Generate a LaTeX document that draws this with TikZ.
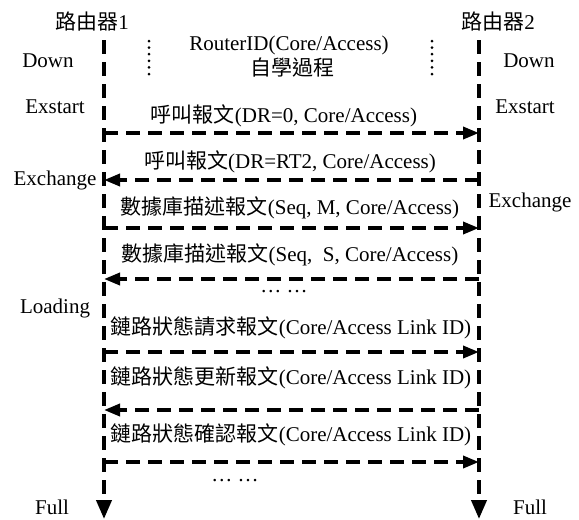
\documentclass[tikz,border=0pt]{standalone}
\usepackage{fontspec}
\setmainfont{Liberation Serif}
\newfontfamily\cjk{Noto Sans CJK TC}
\usetikzlibrary{arrows.meta}
\begin{document}
\begin{tikzpicture}[x=1pt,y=-1pt,
 lbl/.style={font=\fontsize{21}{24}\selectfont, inner sep=0pt, anchor=center},
 life/.style={line width=4pt, dash pattern=on 14pt off 8pt, -{Triangle[length=19pt,width=15pt]}},
 msg/.style={line width=3.6pt, dash pattern=on 14pt off 8pt, -{Triangle[length=16pt,width=12pt]}},
 dotline/.style={line width=3pt, line cap=round, dash pattern=on 0pt off 6.6pt}]
\useasboundingbox (0,0) rectangle (579,520);
% router labels
\node[lbl] (r1) at (92,22) {{\cjk 路由器}1};
\node[lbl] (r2) at (498,22) {{\cjk 路由器}2};
% lifelines
\coordinate (l1top) at (104,40);
\coordinate (l1bot) at (104,519);
\coordinate (l2top) at (479,40);
\coordinate (l2bot) at (479,519);
\draw[life] (l1top) -- (l1bot);
\draw[life] (l2top) -- (l2bot);
% states
\node[lbl] (sdl) at (48,61) {Down};
\node[lbl] (sdr) at (529,61) {Down};
\node[lbl] (sel) at (55,107) {Exstart};
\node[lbl] (ser) at (525,107) {Exstart};
\node[lbl] (sxl) at (55,180) {Exchange};
\node[lbl] (sxr) at (530,202) {Exchange};
\node[lbl] (sll) at (55,308) {Loading};
\node[lbl] (sfl) at (52,507) {Full};
\node[lbl] (sfr) at (530,507) {Full};
% dotted separators
\coordinate (d1a) at (149,41);
\coordinate (d1b) at (149,80);
\coordinate (d2a) at (432,41);
\coordinate (d2b) at (432,80);
\draw[dotline] (d1a) -- (d1b);
\draw[dotline] (d2a) -- (d2b);
\node[lbl] (rid) at (289,45) {RouterID(Core/Access)};
\node[lbl] (self) at (292,68) {\cjk 自學過程};
% messages
\node[lbl] (t1) at (284,116) {{\cjk 呼叫報文}(DR=0, Core/Access)};
\coordinate (a1) at (104,133); \coordinate (b1) at (479,133);
\draw[msg] (a1) -- (b1);
\node[lbl] (t2) at (290,162) {{\cjk 呼叫報文}(DR=RT2, Core/Access)};
\coordinate (a2) at (104,180); \coordinate (b2) at (479,180);
\draw[msg] (b2) -- (a2);
\node[lbl] (t3) at (290,208) {{\cjk 數據庫描述報文}(Seq, M, Core/Access)};
\coordinate (a3) at (104,228); \coordinate (b3) at (479,228);
\draw[msg] (a3) -- (b3);
\node[lbl] (t4) at (290,255) {{\cjk 數據庫描述報文}(Seq,\ \ S, Core/Access)};
\coordinate (a4) at (104,279); \coordinate (b4) at (479,279);
\draw[msg] (b4) -- (a4);
\node[lbl] (dots1) at (284,292) {… …};
\node[lbl] (t5) at (291,328) {{\cjk 鏈路狀態請求報文}(Core/Access Link ID)};
\coordinate (a5) at (104,352); \coordinate (b5) at (479,352);
\draw[msg] (a5) -- (b5);
\node[lbl] (t6) at (291,378) {{\cjk 鏈路狀態更新報文}(Core/Access Link ID)};
\coordinate (a6) at (104,410); \coordinate (b6) at (479,410);
\draw[msg] (b6) -- (a6);
\node[lbl] (t7) at (291,435) {{\cjk 鏈路狀態確認報文}(Core/Access Link ID)};
\coordinate (a7) at (104,462); \coordinate (b7) at (479,462);
\draw[msg] (a7) -- (b7);
\node[lbl] (dots2) at (235,481) {… …};
\end{tikzpicture}
\end{document}
